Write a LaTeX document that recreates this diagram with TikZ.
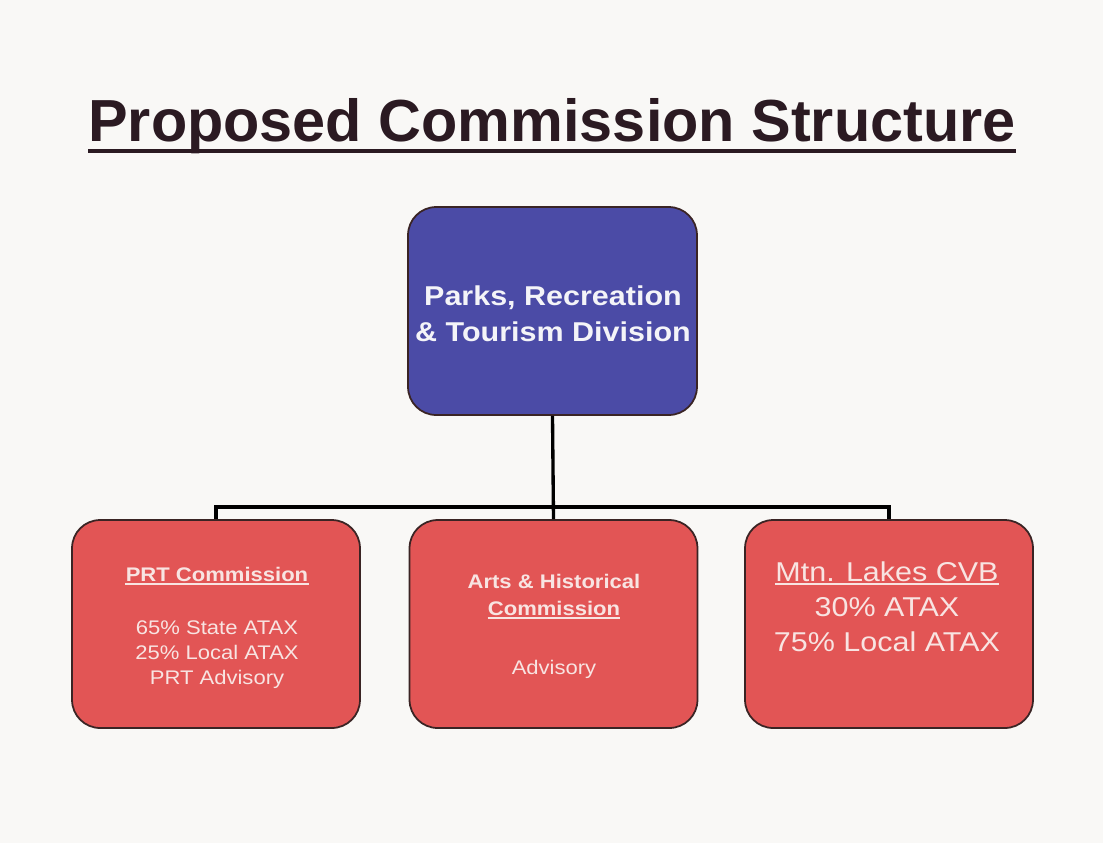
\documentclass[tikz,border=0pt]{standalone}
\usepackage{fontspec}
\setmainfont{Liberation Sans}
\newfontfamily\wide[FakeStretch=1.12]{Liberation Sans}
\definecolor{bgcol}{HTML}{F9F8F6}
\definecolor{titlecol}{HTML}{2B1A22}
\definecolor{topblue}{HTML}{4B4BA6}
\definecolor{subred}{HTML}{E25555}
\definecolor{boxline}{HTML}{3A2424}
\definecolor{pinktext}{HTML}{F8E4E2}
\definecolor{whitetext}{HTML}{F4F4F8}
\begin{document}
\begin{tikzpicture}[x=0.02cm,y=-0.02cm,
  box/.style={draw=boxline, line width=1pt, rounded corners=16pt,
    minimum width=5.76cm, minimum height=4.16cm, inner sep=0pt},
  bluebox/.style={box, fill=topblue},
  redbox/.style={box, fill=subred},
  conn/.style={line width=1.9pt, black},
  toptxt/.style={anchor=base, inner sep=0pt, text=whitetext,
    font=\wide\bfseries\fontsize{15.5}{18}\selectfont},
  btxt/.style={anchor=base, inner sep=0pt, text=pinktext,
    font=\wide\bfseries\fontsize{11.2}{13}\selectfont},
  rtxt/.style={anchor=base, inner sep=0pt, text=pinktext,
    font=\wide\fontsize{11.2}{13}\selectfont},
  bigtxt/.style={anchor=base, inner sep=0pt, text=pinktext,
    font=\wide\fontsize{15.5}{18}\selectfont},
  ul/.style={line width=1.1pt, pinktext}
]
\fill[bgcol] (0,0) rectangle (1103,843);
\useasboundingbox (0,0) rectangle (1103,843);

% title
\node[anchor=base, inner sep=0pt, text=titlecol,
  font=\bfseries\fontsize{33.8}{40}\selectfont] (title) at (552,141) {Proposed Commission Structure};
\draw[line width=2.3pt, titlecol] ([yshift=-5.6pt]title.base west) -- ([yshift=-5.6pt]title.base east);

% boxes
\node[bluebox, minimum width=5.78cm] (top) at (552.5,311) {};
\node[redbox] (prt) at (216,624) {};
\node[redbox] (arts) at (553.5,624) {};
\node[redbox] (cvb) at (889,624) {};

% connectors
\coordinate (bus) at (553,507);
\draw[conn] (top.south) -- (arts.north);
\draw[conn] (prt.north) -- (prt.north |- bus) -- (cvb.north |- bus) -- (cvb.north);

% top box text
\node[toptxt] (t1) at (553,305) {Parks, Recreation};
\node[toptxt] (t2) at (553,341) {\& Tourism Division};

% PRT box text
\node[btxt] (p1) at (217,581) {PRT Commission};
\draw[ul] ([yshift=-1.6pt]p1.base west) -- ([yshift=-1.6pt]p1.base east);
\node[rtxt] (p2) at (217,634) {65\% State ATAX};
\node[rtxt] (p3) at (217,659) {25\% Local ATAX};
\node[rtxt] (p4) at (217,684) {PRT Advisory};

% Arts box text
\node[btxt] (a1) at (554,588) {Arts \& Historical};
\node[btxt] (a2) at (554,615) {Commission};
\draw[ul] ([yshift=-1.8pt]a2.base west) -- ([yshift=-1.8pt]a2.base east);
\node[rtxt] (a3) at (554,674) {Advisory};

% CVB box text
\node[bigtxt] (c1) at (887,581) {Mtn. Lakes CVB};
\draw[ul] ([yshift=-1.8pt]c1.base west) -- ([yshift=-1.8pt]c1.base east);
\node[bigtxt] (c2) at (887,616) {30\% ATAX};
\node[bigtxt] (c3) at (887,651) {75\% Local ATAX};
\end{tikzpicture}
\end{document}
